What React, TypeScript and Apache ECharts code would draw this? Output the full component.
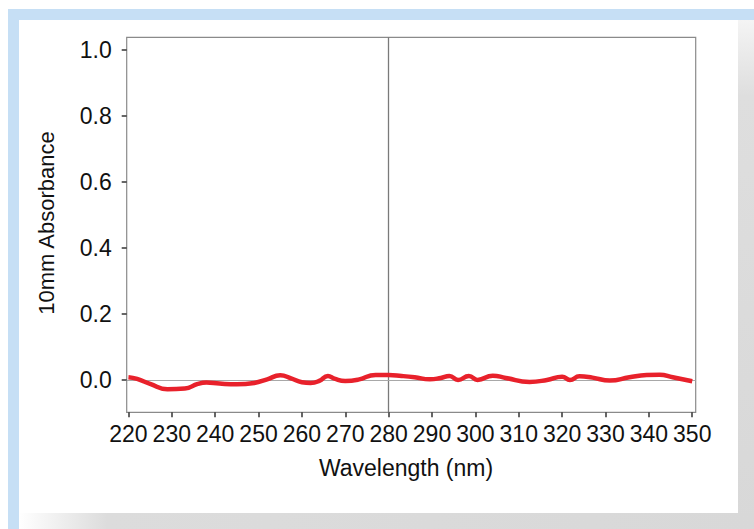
import React, { useEffect, useRef } from "react";
import * as echarts from "echarts";

const wavelengths = [220, 222, 225, 229, 233, 236, 238, 241, 245, 249, 252, 255, 257.5, 260, 262, 264, 266, 267.5, 270, 273, 277, 280, 283, 286, 289.5, 292, 294, 296, 298.5, 300.5, 304, 307, 312.5, 316.5, 320, 321.8, 324, 327, 331, 335.5, 339.5, 342.5, 345.5, 350];
const absorbance = [0.008, 0.003, -0.012, -0.028, -0.026, -0.012, -0.008, -0.011, -0.013, -0.009, 0.002, 0.014, 0.005, -0.007, -0.009, -0.003, 0.012, 0.004, -0.003, 0.001, 0.015, 0.015, 0.012, 0.008, 0.002, 0.006, 0.012, 0.0, 0.012, 0.0, 0.013, 0.006, -0.006, 0.0, 0.01, 0.0, 0.011, 0.007, -0.002, 0.008, 0.015, 0.016, 0.008, -0.004];
const xTicks = [220, 230, 240, 250, 260, 270, 280, 290, 300, 310, 320, 330, 340, 350];
const yTicks = [0, 0.2, 0.4, 0.6, 0.8, 1.0];
const xTitle = "Wavelength (nm)";
const yTitle = "10mm Absorbance";

const FONT = "'Liberation Sans', Arial, Helvetica, sans-serif";

export default function App() {
  const ref = useRef<HTMLDivElement>(null);
  useEffect(() => {
    if (!ref.current) return;
    const chart = echarts.init(ref.current, null, { renderer: "svg" });
    const data = wavelengths.map((w, i) => [w, absorbance[i]]);
    chart.setOption({
      animation: false,
      backgroundColor: "#ffffff",
      graphic: [
        { type: "rect", z: -10, silent: true, shape: { x: 8, y: 9, width: 746, height: 520 }, style: { fill: "#c6dff5" } },
        {
          type: "rect", z: -9, silent: true, shape: { x: 738, y: 20, width: 16, height: 509 },
          style: { fill: new echarts.graphic.LinearGradient(0, 0, 0, 1, [{ offset: 0, color: "#f4f4f4" }, { offset: 0.15, color: "#dedede" }, { offset: 1, color: "#d8d8d8" }]) },
        },
        {
          type: "rect", z: -9, silent: true, shape: { x: 19, y: 513, width: 735, height: 16 },
          style: { fill: new echarts.graphic.LinearGradient(0, 0, 1, 0, [{ offset: 0, color: "#ffffff" }, { offset: 0.12, color: "#dcdcdc" }, { offset: 1, color: "#d8d8d8" }]) },
        },
        { type: "rect", z: -8, silent: true, shape: { x: 19, y: 20, width: 719, height: 493 }, style: { fill: "#ffffff" } },
        {
          type: "text", x: 46, y: 223, rotation: Math.PI / 2, z: 10,
          style: { text: yTitle, font: `22px ${FONT}`, fill: "#111", align: "center", verticalAlign: "middle" },
        },
        {
          type: "text", x: 406, y: 468, z: 10,
          style: { text: xTitle, font: `23px ${FONT}`, fill: "#111", align: "center", verticalAlign: "middle" },
        },
      ],
      grid: {
        left: 126.7, top: 37.3, right: 58.3, bottom: 116.7,
        show: true, borderColor: "#8a8a8a", borderWidth: 1.2, backgroundColor: "transparent",
      },
      xAxis: {
        type: "value", min: 219.6, max: 350.8,
        axisLine: { show: false, onZero: false },
        splitLine: { show: false },
        axisTick: { show: true, customValues: xTicks, length: 5, lineStyle: { color: "#333", width: 1.5 } },
        axisLabel: { customValues: xTicks, margin: 10, fontSize: 23, fontFamily: FONT, color: "#111", formatter: (v: number) => String(Math.round(v)) },
      },
      yAxis: {
        type: "value", min: -0.098, max: 1.038,
        axisLine: { show: false, onZero: false },
        splitLine: { show: false },
        axisTick: { show: true, customValues: yTicks, length: 5, lineStyle: { color: "#333", width: 1.5 } },
        axisLabel: { customValues: yTicks, margin: 15, fontSize: 23, fontFamily: FONT, color: "#111", formatter: (v: number) => v.toFixed(1) },
      },
      series: [
        {
          type: "line",
          data,
          smooth: 0.5,
          showSymbol: false,
          lineStyle: { color: "#e8212b", width: 4.5 },
          z: 5,
          markLine: {
            silent: true,
            symbol: "none",
            label: { show: false },
            z: 1,
            data: [
              { xAxis: 280, lineStyle: { color: "#7a7a7a", width: 1.3, type: "solid" } },
              { yAxis: 0, lineStyle: { color: "#a8a8a8", width: 1.2, type: "solid" } },
            ],
          },
        },
      ],
    });
    return () => chart.dispose();
  }, []);
  return <div ref={ref} style={{ position: "fixed", left: 0, top: 0, width: 754, height: 529 }} />;
}
